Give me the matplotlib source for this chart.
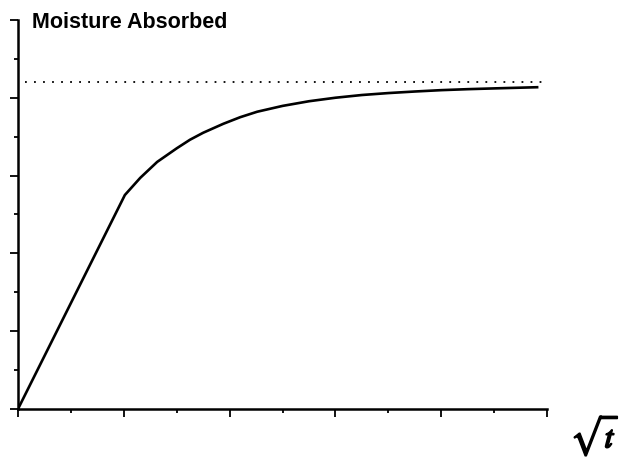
import matplotlib.pyplot as plt
import matplotlib.patheffects as pe
from matplotlib.ticker import MultipleLocator

# sqrt(t) vs moisture uptake (axis units = tick steps)
root_t = [0.0, 2.02, 2.31, 2.63, 3.0, 3.25, 3.5, 3.88, 4.2, 4.52, 5.0, 5.5,
          6.0, 6.5, 7.0, 7.5, 8.0, 8.5, 9.0, 9.81]
moisture = [0.0, 5.50, 5.94, 6.35, 6.70, 6.92, 7.10, 7.33, 7.50, 7.64, 7.79,
            7.91, 8.00, 8.07, 8.12, 8.16, 8.195, 8.22, 8.24, 8.27]

# equilibrium level (dotted)
eq_x = [0.13, 9.92]
eq_y = [8.41, 8.41]

plt.rcParams["mathtext.fontset"] = "stix"

fig = plt.figure(figsize=(6.33, 4.63), dpi=100)
ax = fig.add_axes([0.0284, 0.1166, 0.836, 0.8404])

ax.plot(root_t, moisture, color="black", lw=1.9, solid_joinstyle="round")
ax.plot(eq_x, eq_y, color="black", lw=1.3, linestyle=(0, (1, 4)))

ax.set_xlim(0, 10)
ax.set_ylim(0, 10)

for s in ["top", "right"]:
    ax.spines[s].set_visible(False)
for s in ["left", "bottom"]:
    ax.spines[s].set_linewidth(1.8)

ax.xaxis.set_major_locator(MultipleLocator(2))
ax.xaxis.set_minor_locator(MultipleLocator(1))
ax.yaxis.set_major_locator(MultipleLocator(2))
ax.yaxis.set_minor_locator(MultipleLocator(1))
ax.tick_params(which="major", direction="out", length=6, width=1.3,
               labelbottom=False, labelleft=False)
ax.tick_params(which="minor", direction="out", length=3, width=1.3)

fig.text(0.05, 0.94, "Moisture Absorbed", fontsize=15.5, fontweight="bold",
         family="Liberation Sans", ha="left", va="baseline")

fig.text(0.94, 0.06, r"$\sqrt{t}$", fontsize=23, ha="center", va="center",
         path_effects=[pe.withStroke(linewidth=1.2, foreground="black")])

plt.savefig("out.png", dpi=100)
plt.close()
